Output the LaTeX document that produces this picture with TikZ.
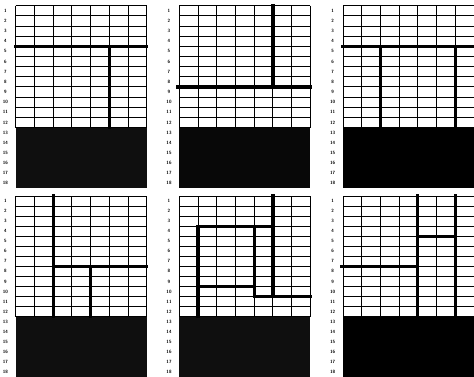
\documentclass[tikz,border=0pt]{standalone}
\usepackage{tikz}

% one panel: x, y, row height, name, floor shade, wall paths
\newcommand{\floorplan}[6]{%
  \begin{scope}[shift={(#1,#2)}, x=18.72pt, y=-#3pt]
    \fill[floor=#5] (0,12) rectangle (7,18);
    \foreach \c in {0,...,7}
      \draw[gridline] (\c,0) -- (\c,12);
    \foreach \r in {0,...,12}
      \draw[gridline] (0,\r) -- (7,\r);
    \foreach \r in {1,...,18}
      \node[rownum] (#4-\r) at (-0.55,\r-0.5) {\r};
    \draw[wall] #6;
  \end{scope}}

\begin{document}
\begin{tikzpicture}[
    x=1pt, y=-1pt,
    gridline/.style={line width=0.9pt, black},
    wall/.style={line width=3.2pt, line cap=rect, black},
    floor/.style={fill=black!#1},
    rownum/.style={font=\sffamily\bfseries\fontsize{4.6}{5}\selectfont, inner sep=0pt}
]
    \useasboundingbox (0,0) rectangle (474,376);
    \clip (0,0) rectangle (474,376);

    % top row
    \floorplan{15.7}{5.7}{10.15}{a}{94}{(0,4) -- (7,4) (5,4) -- (5,12)}
    \floorplan{179.3}{5.7}{10.15}{b}{97}{(5,0) -- (5,8) (-0.1,8) -- (7,8)}
    \floorplan{343}{5.7}{10.15}{c}{100}{(0,4) -- (7,4) (2,4) -- (2,12) (6,4) -- (6,12)}

    % bottom row
    \floorplan{15.7}{196}{10.05}{d}{94}{(2,0) -- (2,12) (2,7) -- (7,7) (4,7) -- (4,12)}
    \floorplan{179.3}{196}{10.05}{e}{94}{(1,12) -- (1,3) -- (5,3) (5,0) -- (5,10) (1,9) -- (4,9) (4,3) -- (4,10) -- (7,10)}
    \floorplan{343}{196}{10.05}{f}{100}{(4,0) -- (4,12) (6,0) -- (6,12) (-0.1,7) -- (4,7) (4,4) -- (6,4)}
\end{tikzpicture}
\end{document}
